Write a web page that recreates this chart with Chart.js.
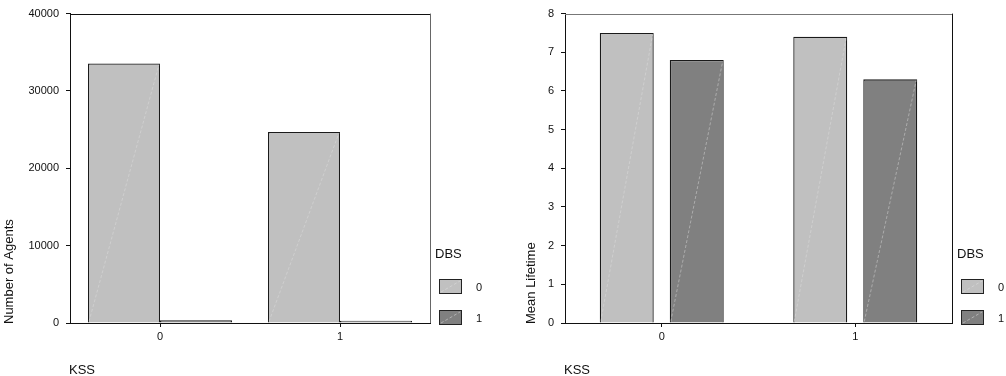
<!DOCTYPE html>
<html>
<head>
<meta charset="utf-8">
<script src="https://cdn.jsdelivr.net/npm/chart.js@4.4.1/dist/chart.umd.min.js"></script>
<style>
  html, body { margin: 0; padding: 0; background: #fff; }
  body { width: 1006px; height: 376px; position: relative; overflow: hidden; }
  .panel { position: absolute; top: 0; height: 376px; }
  #p1 { left: 0; width: 500px; }
  #p2 { left: 500px; width: 506px; }
</style>
</head>
<body>
<div class="panel" id="p1"><canvas id="c1"></canvas></div>
<div class="panel" id="p2"><canvas id="c2"></canvas></div>
<script>
// ---- data ----
const kssCategories = ['0', '1'];
const dbsLabels = ['0', '1'];
const agentsDbs0 = [33550, 24700];
const agentsDbs1 = [350, 300];
const lifetimeDbs0 = [7.5, 7.4];
const lifetimeDbs1 = [6.8, 6.3];
const agentsTicks = [0, 10000, 20000, 30000, 40000];
const lifetimeTicks = [0, 1, 2, 3, 4, 5, 6, 7, 8];

const FONT = "'Liberation Sans', Arial, sans-serif";
const LIGHT = '#c0c0c0';
const DARK = '#808080';

const decor = {
  id: 'decor',
  afterDatasetsDraw(chart, args, o) {
    const ctx = chart.ctx;
    ctx.save();
    // faint diagonal streak inside each bar
    ctx.setLineDash([3, 2]);
    chart.data.datasets.forEach((ds, i) => {
      chart.getDatasetMeta(i).data.forEach(bar => {
        const p = bar.getProps(['x', 'y', 'base', 'width'], true);
        if (Math.abs(p.base - p.y) < 6) return;
        ctx.strokeStyle = 'rgba(225,225,225,0.45)';
        ctx.lineWidth = 1;
        ctx.beginPath();
        ctx.moveTo(p.x - p.width / 2 + 1, p.base - 1);
        ctx.lineTo(p.x + p.width / 2 - 1, p.y + 1);
        ctx.stroke();
      });
    });
    ctx.restore();
  },
  afterDraw(chart, args, o) {
    const ctx = chart.ctx;
    const a = chart.chartArea;
    ctx.save();
    // top and right frame
    ctx.lineWidth = 1;
    ctx.strokeStyle = o.topColor;
    ctx.beginPath();
    ctx.moveTo(a.left, Math.round(a.top) + 0.5);
    ctx.lineTo(a.right + 0.5, Math.round(a.top) + 0.5);
    ctx.stroke();
    ctx.strokeStyle = o.rightColor;
    ctx.beginPath();
    ctx.moveTo(Math.round(a.right) + 0.5, a.top);
    ctx.lineTo(Math.round(a.right) + 0.5, a.bottom);
    ctx.stroke();

    ctx.fillStyle = '#111';
    // x axis title
    ctx.font = '13px ' + FONT;
    ctx.textAlign = 'left';
    ctx.textBaseline = 'middle';
    ctx.fillText(o.xTitle, a.left - 1, 370);
    // y axis title (rotated, starting near the bottom)
    ctx.save();
    ctx.translate(a.left - o.yTitleOffset, a.bottom + 1);
    ctx.rotate(-Math.PI / 2);
    ctx.textAlign = 'left';
    ctx.textBaseline = 'middle';
    ctx.fillText(o.yTitle, 0, 0);
    ctx.restore();

    // legend
    const lx = a.right;
    ctx.textAlign = 'left';
    ctx.textBaseline = 'middle';
    ctx.font = '13px ' + FONT;
    ctx.fillText(o.legendTitle, lx + 5, 254);
    ctx.font = '11px ' + FONT;
    chart.data.datasets.forEach((ds, i) => {
      const y = 279 + i * 31;
      ctx.fillStyle = ds.backgroundColor;
      ctx.fillRect(lx + 9, y, 22, 14);
      ctx.strokeStyle = '#222';
      ctx.lineWidth = 1;
      ctx.strokeRect(lx + 9.5, y + 0.5, 22, 14);
      ctx.save();
      ctx.setLineDash([3, 2]);
      ctx.strokeStyle = 'rgba(225,225,225,0.5)';
      ctx.lineWidth = 1;
      ctx.beginPath();
      ctx.moveTo(lx + 11, y + 13);
      ctx.lineTo(lx + 30, y + 2);
      ctx.stroke();
      ctx.restore();
      ctx.fillStyle = '#111';
      ctx.fillText(ds.label, lx + 46, y + 9);
    });
    ctx.restore();
  }
};

function makeChart(canvasId, d0, d1, ticks, yMax, cfg) {
  return new Chart(document.getElementById(canvasId), {
    type: 'bar',
    data: {
      labels: kssCategories,
      datasets: [
        { label: dbsLabels[0], data: d0, backgroundColor: LIGHT, borderColor: '#1a1a1a', borderWidth: 1.3,
          categoryPercentage: cfg.cat, barPercentage: cfg.bar },
        { label: dbsLabels[1], data: d1, backgroundColor: DARK, borderColor: '#1a1a1a', borderWidth: 1.3,
          categoryPercentage: cfg.cat, barPercentage: cfg.bar }
      ]
    },
    options: {
      responsive: true,
      maintainAspectRatio: false,
      animation: false,
      layout: { padding: { left: 0, top: cfg.top, right: cfg.right, bottom: 0 } },
      plugins: {
        legend: { display: false },
        tooltip: { enabled: false },
        decor: cfg.decor
      },
      scales: {
        x: {
          type: 'category',
          offset: true,
          afterFit(s) { s.height = 376 - cfg.bottom; },
          grid: { display: true, drawOnChartArea: false, drawTicks: true, tickLength: 4, color: '#111', offset: false },
          border: { display: true, color: '#111', width: 1 },
          ticks: { color: '#111', font: { family: FONT, size: 11 }, padding: 3 }
        },
        y: {
          type: 'linear',
          min: 0,
          max: yMax,
          afterFit(s) { s.width = cfg.yWidth; },
          afterBuildTicks(s) { s.ticks = ticks.map(v => ({ value: v })); },
          grid: { display: true, drawOnChartArea: false, drawTicks: true, tickLength: 4, color: '#111' },
          border: { display: true, color: '#111', width: 1 },
          ticks: { color: '#111', font: { family: FONT, size: 11 }, padding: 7,
                   callback: v => String(v) }
        }
      }
    },
    plugins: [decor]
  });
}

makeChart('c1', agentsDbs0, agentsDbs1, agentsTicks, 40000, {
  cat: 0.8, bar: 1.0, top: 11, right: 70, bottom: 323, yWidth: 70,
  decor: { xTitle: 'KSS', yTitle: 'Number of Agents', yTitleOffset: 61, legendTitle: 'DBS',
           topColor: '#111', rightColor: '#666' }
});
makeChart('c2', lifetimeDbs0, lifetimeDbs1, lifetimeTicks, 8, {
  cat: 0.7235, bar: 0.771, top: 8, right: 54, bottom: 323, yWidth: 65,
  decor: { xTitle: 'KSS', yTitle: 'Mean Lifetime', yTitleOffset: 34, legendTitle: 'DBS',
           topColor: '#777', rightColor: '#111' }
});
</script>
</body>
</html>
